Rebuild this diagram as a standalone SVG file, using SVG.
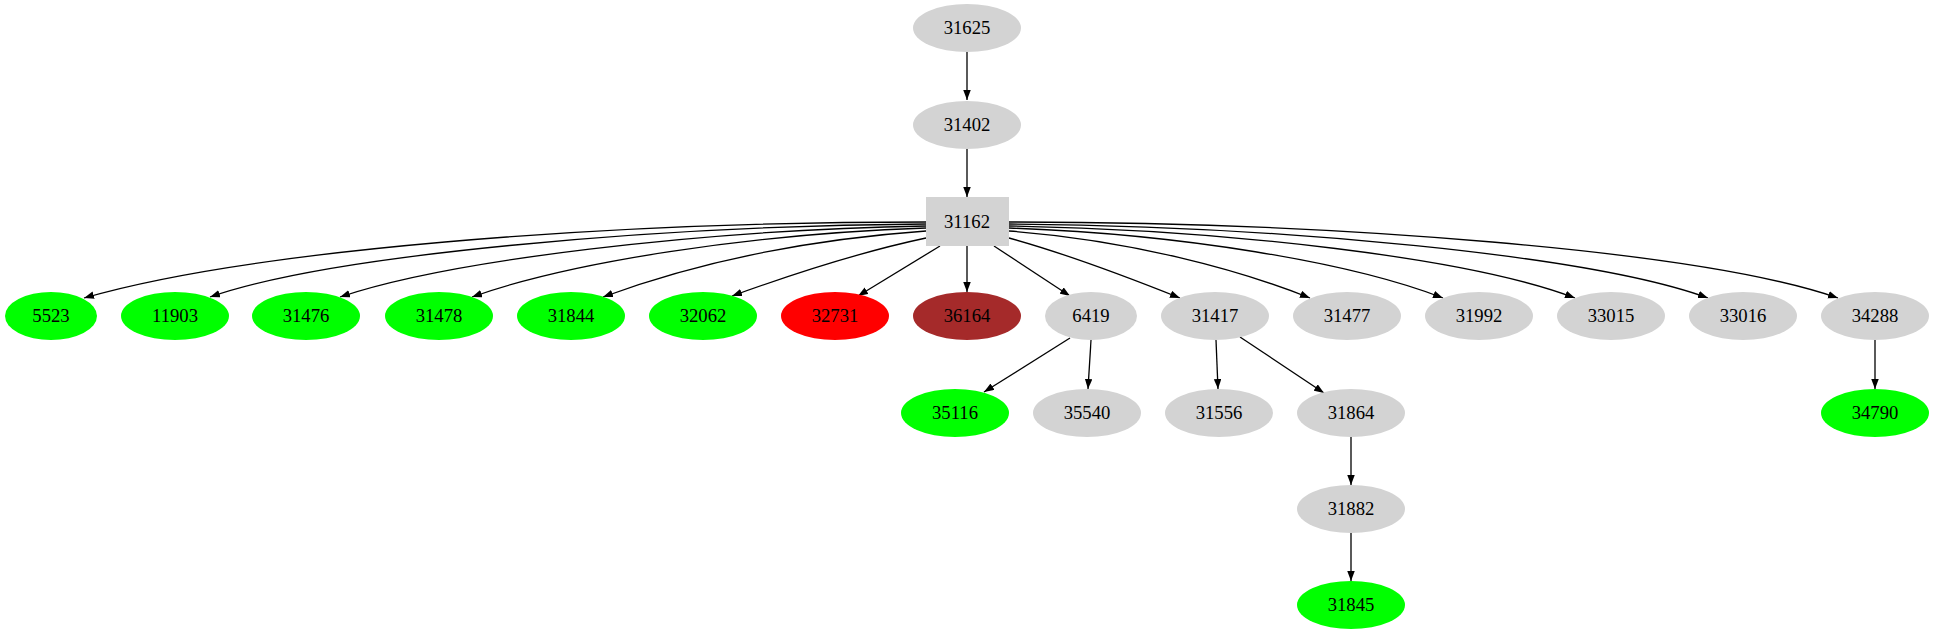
<svg xmlns="http://www.w3.org/2000/svg" width="1934" height="635" viewBox="0 0 1934 635">
<style>
text{font-family:"Liberation Serif","Times New Roman",serif;font-size:18.7px;text-anchor:middle;fill:#000}
.g{fill:#d3d3d3}.gr{fill:#00ff00}.r{fill:#ff0000}.b{fill:#a52a2a}
#edges path{fill:none;stroke:#000;stroke-width:1.3;marker-end:url(#ah)}
</style>
<defs><marker id="ah" markerUnits="userSpaceOnUse" markerWidth="11" markerHeight="8" refX="10" refY="3.75" orient="auto"><path d="M0,0 L10,3.75 L0,7.5z" fill="#000"/></marker></defs>
<rect width="1934" height="635" fill="#fff"/>
<g id="edges">
<path d="M967,52 L967,100"/>
<path d="M967,149 L967,197"/>
<path d="M926,222 C600,222 250,250 84,298"/>
<path d="M926,224 C650,226 330,255 210,297"/>
<path d="M926,226 C700,230 450,260 340,297"/>
<path d="M926,228 C750,234 570,262 472,297"/>
<path d="M926,231 C800,240 690,265 603,297"/>
<path d="M926,238 C860,252 790,275 732,296"/>
<path d="M940,246 L858,296"/>
<path d="M967,246 L967,292"/>
<path d="M994,246 L1070,296"/>
<path d="M1009,238 C1060,252 1130,278 1180,298"/>
<path d="M1009,231 C1130,240 1240,270 1310,298"/>
<path d="M1009,228 C1180,234 1350,262 1443,298"/>
<path d="M1009,226 C1230,230 1470,258 1575,298"/>
<path d="M1009,224 C1280,226 1590,255 1708,298"/>
<path d="M1009,222 C1330,222 1700,250 1838,298"/>
<path d="M1070,338 L984,392"/>
<path d="M1091,340 L1088,389"/>
<path d="M1216,340 L1218,389"/>
<path d="M1240,337 L1324,393"/>
<path d="M1351,437 L1351,485"/>
<path d="M1351,533 L1351,581"/>
<path d="M1875,340 L1875,389"/>
</g>
<g id="n31625"><ellipse class="g" cx="967" cy="28" rx="54" ry="24"/><text x="967" y="34">31625</text></g>
<g id="n31402"><ellipse class="g" cx="967" cy="125" rx="54" ry="24"/><text x="967" y="131">31402</text></g>
<g id="n31162"><rect class="g" x="926" y="197" width="83" height="49"/><text x="967" y="228">31162</text></g>
<g id="n5523"><ellipse class="gr" cx="51" cy="316" rx="46" ry="24"/><text x="51" y="322">5523</text></g>
<g id="n11903"><ellipse class="gr" cx="175" cy="316" rx="54" ry="24"/><text x="175" y="322">11903</text></g>
<g id="n31476"><ellipse class="gr" cx="306" cy="316" rx="54" ry="24"/><text x="306" y="322">31476</text></g>
<g id="n31478"><ellipse class="gr" cx="439" cy="316" rx="54" ry="24"/><text x="439" y="322">31478</text></g>
<g id="n31844"><ellipse class="gr" cx="571" cy="316" rx="54" ry="24"/><text x="571" y="322">31844</text></g>
<g id="n32062"><ellipse class="gr" cx="703" cy="316" rx="54" ry="24"/><text x="703" y="322">32062</text></g>
<g id="n32731"><ellipse class="r" cx="835" cy="316" rx="54" ry="24"/><text x="835" y="322">32731</text></g>
<g id="n36164"><ellipse class="b" cx="967" cy="316" rx="54" ry="24"/><text x="967" y="322">36164</text></g>
<g id="n6419"><ellipse class="g" cx="1091" cy="316" rx="46" ry="24"/><text x="1091" y="322">6419</text></g>
<g id="n31417"><ellipse class="g" cx="1215" cy="316" rx="54" ry="24"/><text x="1215" y="322">31417</text></g>
<g id="n31477"><ellipse class="g" cx="1347" cy="316" rx="54" ry="24"/><text x="1347" y="322">31477</text></g>
<g id="n31992"><ellipse class="g" cx="1479" cy="316" rx="54" ry="24"/><text x="1479" y="322">31992</text></g>
<g id="n33015"><ellipse class="g" cx="1611" cy="316" rx="54" ry="24"/><text x="1611" y="322">33015</text></g>
<g id="n33016"><ellipse class="g" cx="1743" cy="316" rx="54" ry="24"/><text x="1743" y="322">33016</text></g>
<g id="n34288"><ellipse class="g" cx="1875" cy="316" rx="54" ry="24"/><text x="1875" y="322">34288</text></g>
<g id="n35116"><ellipse class="gr" cx="955" cy="413" rx="54" ry="24"/><text x="955" y="419">35116</text></g>
<g id="n35540"><ellipse class="g" cx="1087" cy="413" rx="54" ry="24"/><text x="1087" y="419">35540</text></g>
<g id="n31556"><ellipse class="g" cx="1219" cy="413" rx="54" ry="24"/><text x="1219" y="419">31556</text></g>
<g id="n31864"><ellipse class="g" cx="1351" cy="413" rx="54" ry="24"/><text x="1351" y="419">31864</text></g>
<g id="n34790"><ellipse class="gr" cx="1875" cy="413" rx="54" ry="24"/><text x="1875" y="419">34790</text></g>
<g id="n31882"><ellipse class="g" cx="1351" cy="509" rx="54" ry="24"/><text x="1351" y="515">31882</text></g>
<g id="n31845"><ellipse class="gr" cx="1351" cy="605" rx="54" ry="24"/><text x="1351" y="611">31845</text></g>
</svg>
